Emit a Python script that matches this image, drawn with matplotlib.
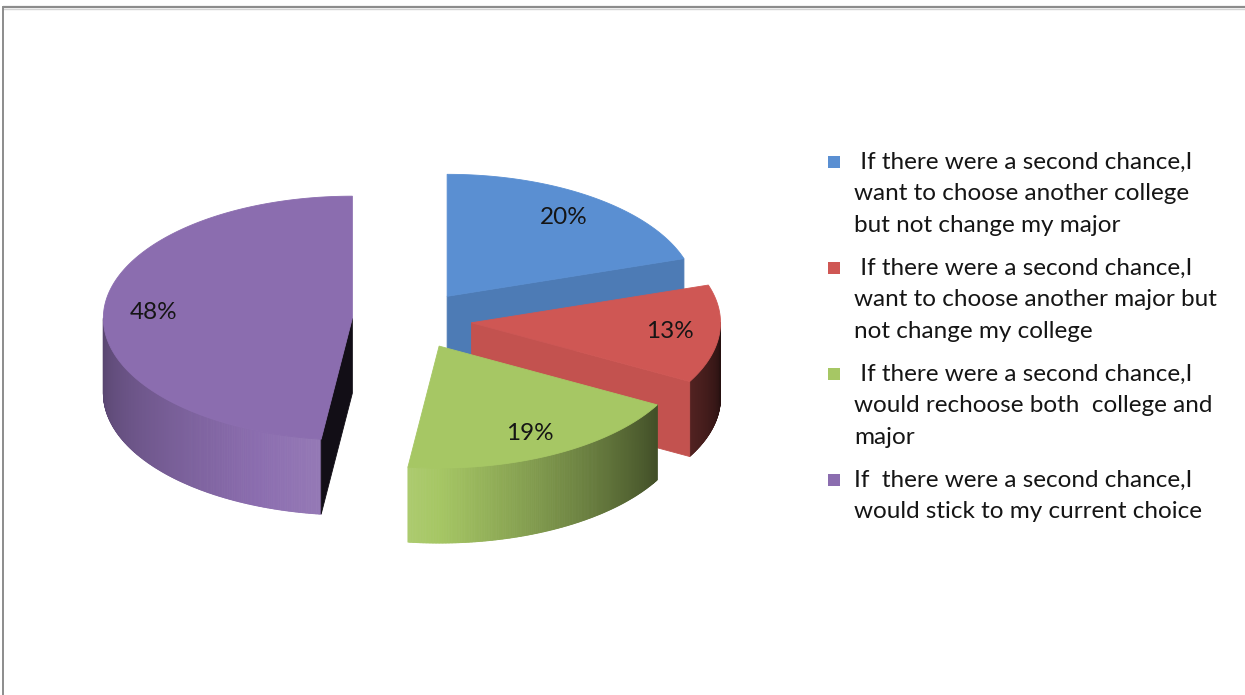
import numpy as np
import matplotlib.pyplot as plt
from matplotlib.patches import Polygon, Rectangle
from matplotlib.collections import PolyCollection
from matplotlib.colors import to_rgb

# survey shares (percent) and legend text
shares = [20, 13, 19, 48]
labels = [
    " If there were a second chance,I\nwant to choose another college\nbut not change my major",
    " If there were a second chance,I\nwant to choose another major but\nnot change my college",
    " If there were a second chance,I\nwould rechoose both  college and\nmajor",
    "If  there were a second chance,I\nwould stick to my current choice",
]
colors = ["#5a8fd2", "#cf5754", "#a6c764", "#8b6daf"]

plt.rcParams["font.family"] = ["Lato", "DejaVu Sans"]
FS = 17.5

fig = plt.figure(figsize=(12.45, 6.95), dpi=100)
ax = fig.add_axes([0, 0, 1, 1])
ax.set_xlim(0, 1245)
ax.set_ylim(695, 0)
ax.axis("off")

# chart frame (top and left edges)
ax.plot([3, 1245], [7, 7], color="#8c8c8c", lw=1.6, solid_capstyle="butt")
ax.plot([3, 1245], [8.6, 8.6], color="#d4d4d4", lw=1.0)
ax.plot([3, 3], [7, 695], color="#8c8c8c", lw=1.4)

# 3D pie geometry (pixels)
cx, cy = 412, 320
rx, ry = 249, 122
depth = 75
explode = 0.24


def shade(color, f):
    c = np.array(to_rgb(color))
    if f <= 1:
        return tuple(c * f)
    return tuple(c + (1 - c) * (f - 1))


def wall_light(theta):
    return np.interp(theta % 360, [180, 262, 331, 360], [0.62, 1.08, 0.40, 0.18])


def face_light(normal):
    return np.interp(normal % 360, [180, 241, 288, 330, 355], [0.8, 0.94, 0.86, 0.4, 0.1])


total = sum(shares)
bounds = 90 - 360 * np.cumsum([0] + shares) / total

slices = []
for i, share in enumerate(shares):
    a1, a0 = bounds[i], bounds[i + 1]
    mid = np.radians((a0 + a1) / 2)
    ox = cx + rx * explode * np.cos(mid)
    oy = cy - ry * explode * np.sin(mid)
    slices.append((oy, i, a0, a1, mid, ox))

# paint from back to front
for oy, i, a0, a1, mid, ox in sorted(slices):
    col = colors[i]

    def pt(a, r=1.0):
        t = np.radians(a)
        return ox + rx * r * np.cos(t), oy - ry * r * np.sin(t)

    # curved outer wall, only the part facing the viewer
    th = np.linspace(a0, a1, int((a1 - a0) * 3) + 2)
    quads, fcs = [], []
    for t0, t1 in zip(th[:-1], th[1:]):
        tm = (t0 + t1) / 2
        if np.sin(np.radians(tm)) >= 0:
            continue
        x0, y0 = pt(t0)
        x1, y1 = pt(t1)
        quads.append([(x0, y0), (x1, y1), (x1, y1 + depth), (x0, y0 + depth)])
        fcs.append(shade(col, wall_light(tm)))
    if quads:
        ax.add_collection(PolyCollection(quads, facecolors=fcs, edgecolors=fcs, linewidths=0.6))

    # flat cut faces
    for a, normal in ((a0, a0 - 90), (a1, a1 + 90)):
        if np.sin(np.radians(normal)) < -1e-6:
            ex, ey = pt(a)
            fc = shade(col, face_light(normal))
            ax.add_patch(Polygon([(ox, oy), (ex, ey), (ex, ey + depth), (ox, oy + depth)],
                                 closed=True, facecolor=fc, edgecolor=fc, lw=0.6))

    # top face
    arc = [pt(t) for t in np.linspace(a0, a1, 200)]
    ax.add_patch(Polygon([(ox, oy)] + arc, closed=True, facecolor=col, edgecolor=col, lw=0.6))

    # percentage label
    lx, ly = ox + rx * 0.8 * np.cos(mid), oy - ry * 0.8 * np.sin(mid)
    ax.text(lx, ly, f"{shares[i]}%", ha="center", va="center", fontsize=FS, color="#151515")

# legend on the right
line_h = 32
y = 162
for lab, col in zip(labels, colors):
    ax.add_patch(Rectangle((828, y - 6), 12, 12, facecolor=col, edgecolor="none"))
    for k, line in enumerate(lab.split("\n")):
        ax.text(854, y + k * line_h, line, ha="left", va="center", fontsize=FS, color="#151515")
    y += len(lab.split("\n")) * line_h + 10

fig.savefig("out.png", dpi=100, facecolor="white")
